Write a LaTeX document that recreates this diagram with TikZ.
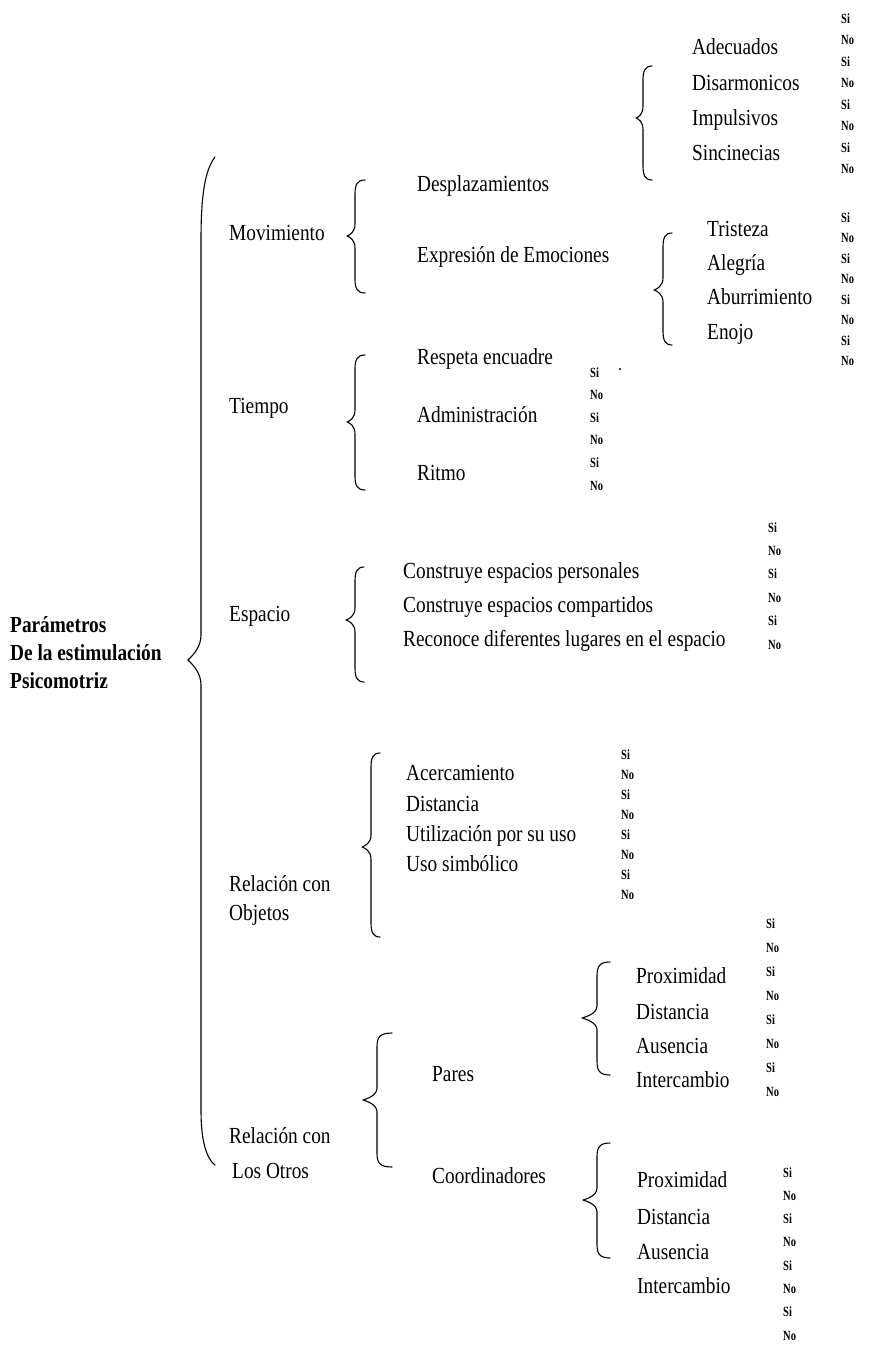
\documentclass[tikz,border=0pt]{standalone}
\usepackage{fontspec}
\setmainfont{Liberation Serif}
\newfontfamily\txtfont[FakeStretch=0.84]{Liberation Serif}
\newfontfamily\ynfont[FakeStretch=0.75]{Liberation Serif}
\tikzset{
  lbl/.style={anchor=base west, inner sep=0pt, font=\txtfont\fontsize{23}{25}\selectfont},
  rootlbl/.style={anchor=base west, inner sep=0pt, font=\txtfont\bfseries\fontsize{23}{25}\selectfont},
  yn/.style={anchor=base west, inner sep=0pt, font=\ynfont\bfseries\fontsize{14}{15}\selectfont},
  brc/.style={line width=1.1pt, line join=round, line cap=round}
}
% brace: #1 x of stem, #2 top y, #3 cusp y, #4 bottom y, #5 tip dx, #6 cusp depth
\newcommand\mybrace[6]{%
  \draw[brc] ({#1+#5},{#2}) .. controls ({#1+2},{#2}) and ({#1},{#2+5}) .. ({#1},{#2+14})
    -- ({#1},{#3-12}) .. controls ({#1},{#3-4}) and ({#1-#6+3},{#3-1}) .. ({#1-#6},{#3})
    .. controls ({#1-#6+3},{#3+1}) and ({#1},{#3+4}) .. ({#1},{#3+12})
    -- ({#1},{#4-14}) .. controls ({#1},{#4-5}) and ({#1+2},{#4}) .. ({#1+#5},{#4});}
\begin{document}
\begin{tikzpicture}[x=1pt,y=-1pt]
\useasboundingbox (0,0) rectangle (873,1347);

% root
\node[rootlbl] (r1) at (10,632) {Parámetros};
\node[rootlbl] (r2) at (10,660) {De la estimulación};
\node[rootlbl] (r3) at (10,688) {Psicomotriz};

% main brace
\draw[brc] (215,157) .. controls (205,170) and (201,195) .. (201,240)
  -- (201,635) .. controls (201,648) and (192,656) .. (188,660)
  .. controls (192,664) and (201,672) .. (201,685)
  -- (201,1110) .. controls (201,1140) and (206,1158) .. (215,1165);

% level 1
\node[lbl] (mov) at (229,240) {Movimiento};
\node[lbl] (tie) at (229,413) {Tiempo};
\node[lbl] (esp) at (229,621) {Espacio};
\node[lbl] (obj1) at (229,891) {Relación con};
\node[lbl] (obj2) at (229,920) {Objetos};
\node[lbl] (otr1) at (229,1143) {Relación con};
\node[lbl] (otr2) at (232,1178) {Los Otros};

% Movimiento
\mybrace{355}{180}{236}{293}{10}{8}
\node[lbl] (des) at (417,191) {Desplazamientos};
\node[lbl] (exp) at (417,262) {Expresión de Emociones};

\mybrace{643}{66}{118}{180}{9}{7}
\node[lbl] (ade) at (692,54) {Adecuados};
\node[lbl] (dis) at (692,90) {Disarmonicos};
\node[lbl] (imp) at (692,125) {Impulsivos};
\node[lbl] (sin) at (692,160) {Sincinecias};
\foreach \t [count=\i] in {Si,No,Si,No,Si,No,Si,No}
  \node[yn] (ya\i) at (841,{23+21.5*(\i-1)}) {\t};

\mybrace{663}{233}{290}{345}{9}{9}
\node[lbl] (tri) at (707,236) {Tristeza};
\node[lbl] (ale) at (707,270) {Alegría};
\node[lbl] (abu) at (707,304) {Aburrimiento};
\node[lbl] (eno) at (707,339) {Enojo};
\foreach \t [count=\i] in {Si,No,Si,No,Si,No,Si,No}
  \node[yn] (yb\i) at (841,{222+20.5*(\i-1)}) {\t};

% Tiempo
\mybrace{355}{355}{422}{490}{10}{8}
\node[lbl] (res) at (417,364) {Respeta encuadre};
\node[lbl] (adm) at (417,422) {Administración};
\node[lbl] (rit) at (417,480) {Ritmo};
\foreach \t [count=\i] in {Si,No,Si,No,Si,No}
  \node[yn] (yc\i) at (590,{377+22.6*(\i-1)}) {\t};
\fill (620,369) circle (1.2);

% Espacio
\mybrace{355}{567}{620}{682}{9}{9}
\node[lbl] (cep) at (403,578) {Construye espacios personales};
\node[lbl] (cec) at (403,612) {Construye espacios compartidos};
\node[lbl] (rec) at (403,646) {Reconoce diferentes lugares en el espacio};
\foreach \t [count=\i] in {Si,No,Si,No,Si,No}
  \node[yn] (yd\i) at (768,{532+23.4*(\i-1)}) {\t};

% Objetos
\mybrace{371}{753}{847}{937}{9}{9}
\node[lbl] (ace) at (406,780) {Acercamiento};
\node[lbl] (dst) at (406,811) {Distancia};
\node[lbl] (uti) at (406,841) {Utilización por su uso};
\node[lbl] (uso) at (406,871) {Uso simbólico};
\foreach \t [count=\i] in {Si,No,Si,No,Si,No,Si,No}
  \node[yn] (ye\i) at (621,{759+20*(\i-1)}) {\t};

% Otros
\mybrace{377}{1033}{1100}{1167}{15}{14}
\node[lbl] (par) at (432,1081) {Pares};
\node[lbl] (coo) at (432,1183) {Coordinadores};

\mybrace{597}{962}{1018}{1075}{13}{15}
\node[lbl] (pp1) at (636,983) {Proximidad};
\node[lbl] (pp2) at (636,1019) {Distancia};
\node[lbl] (pp3) at (636,1053) {Ausencia};
\node[lbl] (pp4) at (636,1087) {Intercambio};
\foreach \t [count=\i] in {Si,No,Si,No,Si,No,Si,No}
  \node[yn] (yf\i) at (766,{928+24*(\i-1)}) {\t};

\mybrace{597}{1143}{1200}{1258}{13}{14}
\node[lbl] (cp1) at (637,1187) {Proximidad};
\node[lbl] (cp2) at (637,1224) {Distancia};
\node[lbl] (cp3) at (637,1259) {Ausencia};
\node[lbl] (cp4) at (637,1293) {Intercambio};
\foreach \t [count=\i] in {Si,No,Si,No,Si,No,Si,No}
  \node[yn] (yg\i) at (783,{1177+23.3*(\i-1)}) {\t};
\end{tikzpicture}
\end{document}
